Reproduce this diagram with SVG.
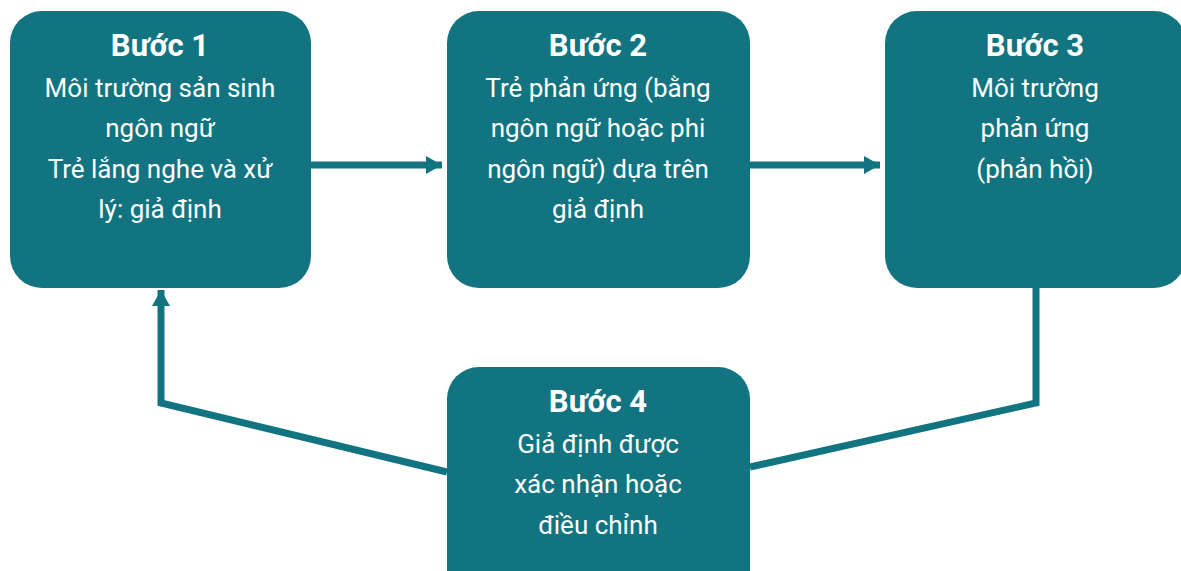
<svg xmlns="http://www.w3.org/2000/svg" width="1181" height="571" viewBox="0 0 1181 571">
  <defs>
    <style>
      .box { fill: #117480; }
      .title { font-family: Roboto, "Liberation Sans", sans-serif; font-weight: bold; font-size: 31px; fill: #ffffff; text-anchor: middle; }
      .body { font-family: Roboto, "Liberation Sans", sans-serif; font-size: 26px; fill: #ffffff; text-anchor: middle; }
      .link { fill: none; stroke: #117480; stroke-width: 7; stroke-linejoin: miter; }
    </style>
    <marker id="arrow" viewBox="0 0 16 18" refX="16" refY="9" markerWidth="16" markerHeight="18" markerUnits="userSpaceOnUse" orient="auto">
      <path d="M0,0 L16,9 L0,18 Z" fill="#117480"/>
    </marker>
  </defs>

  <!-- connectors -->
  <g id="connectors">
    <path class="link" d="M311,165 H442" marker-end="url(#arrow)"/>
    <path class="link" d="M750,165 H880" marker-end="url(#arrow)"/>
    <path class="link" d="M1036,288 V403 L750,467"/>
    <path class="link" d="M447,472 L161,403 V290" marker-end="url(#arrow)"/>
  </g>

  <g id="step1">
    <rect class="box" x="10" y="11" width="301" height="277" rx="32"/>
    <text class="title" x="160" y="56">Bước 1</text>
    <text class="body" x="160" y="97">Môi trường sản sinh</text>
    <text class="body" x="160" y="137">ngôn ngữ</text>
    <text class="body" x="160" y="178">Trẻ lắng nghe và xử</text>
    <text class="body" x="160" y="218">lý: giả định</text>
  </g>

  <g id="step2">
    <rect class="box" x="447" y="11" width="303" height="277" rx="32"/>
    <text class="title" x="598" y="56">Bước 2</text>
    <text class="body" x="598" y="97">Trẻ phản ứng (bằng</text>
    <text class="body" x="598" y="137">ngôn ngữ hoặc phi</text>
    <text class="body" x="598" y="178">ngôn ngữ) dựa trên</text>
    <text class="body" x="598" y="218">giả định</text>
  </g>

  <g id="step3">
    <rect class="box" x="885" y="11" width="301" height="277" rx="32"/>
    <text class="title" x="1035" y="56">Bước 3</text>
    <text class="body" x="1035" y="97">Môi trường</text>
    <text class="body" x="1035" y="137">phản ứng</text>
    <text class="body" x="1035" y="178">(phản hồi)</text>
  </g>

  <g id="step4">
    <rect class="box" x="447" y="367" width="303" height="240" rx="32"/>
    <text class="title" x="598" y="412">Bước 4</text>
    <text class="body" x="598" y="453">Giả định được</text>
    <text class="body" x="598" y="493">xác nhận hoặc</text>
    <text class="body" x="598" y="534">điều chỉnh</text>
  </g>
</svg>
